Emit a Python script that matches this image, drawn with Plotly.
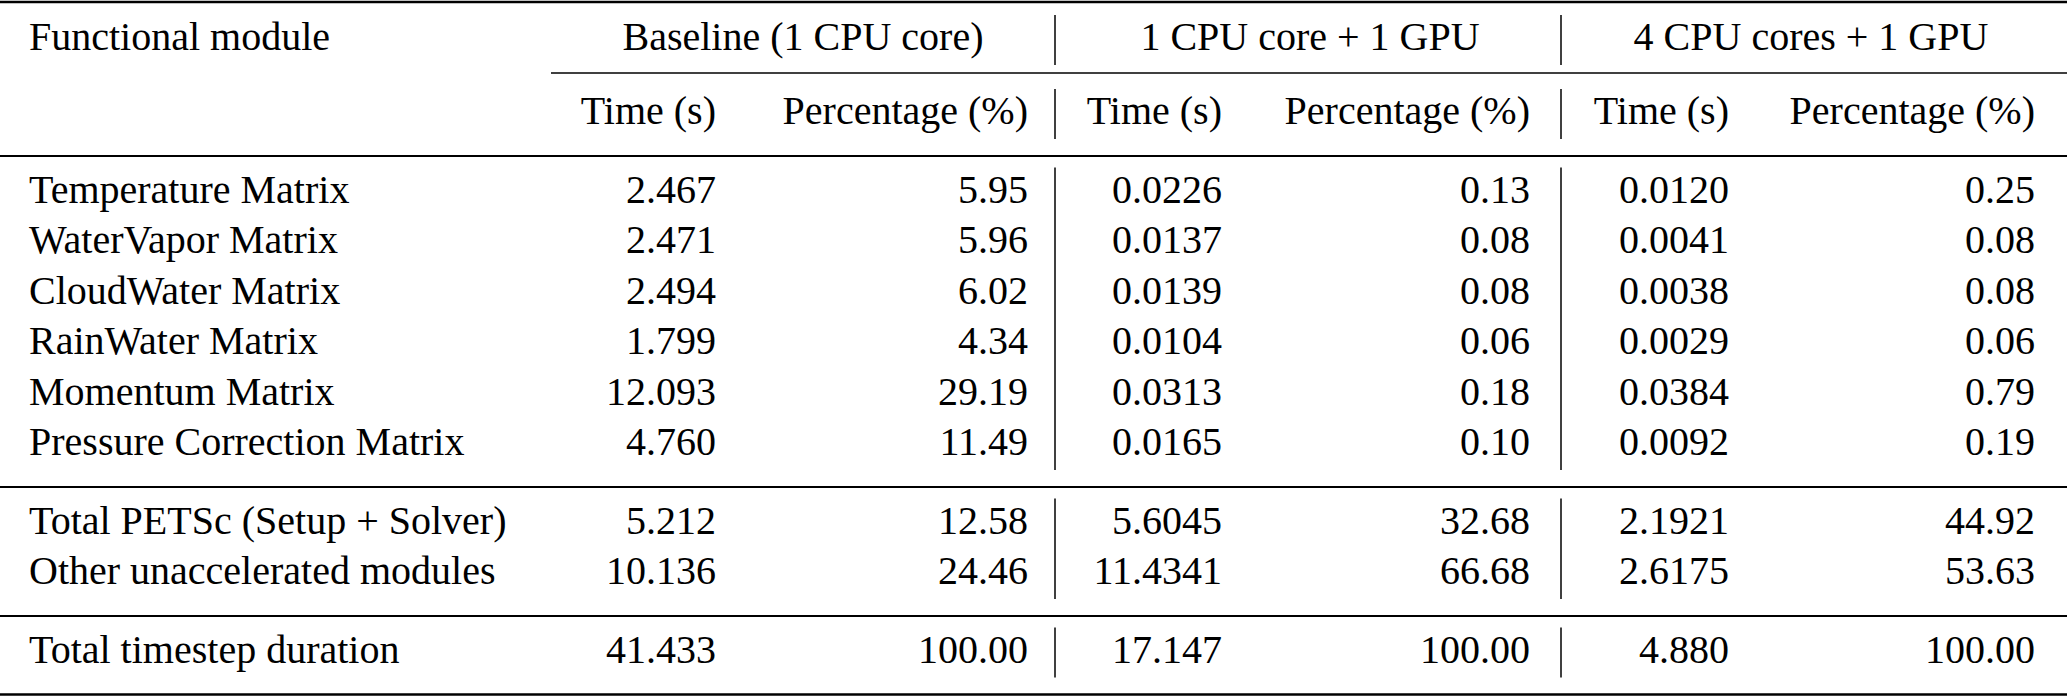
import plotly.graph_objects as go

# table content
modules = [
    "Temperature Matrix", "WaterVapor Matrix", "CloudWater Matrix",
    "RainWater Matrix", "Momentum Matrix", "Pressure Correction Matrix",
    "Total PETSc (Setup + Solver)", "Other unaccelerated modules",
    "Total timestep duration",
]
baseline_time = [2.467, 2.471, 2.494, 1.799, 12.093, 4.760, 5.212, 10.136, 41.433]
baseline_pct = [5.95, 5.96, 6.02, 4.34, 29.19, 11.49, 12.58, 24.46, 100.00]
gpu1_time = [0.0226, 0.0137, 0.0139, 0.0104, 0.0313, 0.0165, 5.6045, 11.4341, 17.147]
gpu1_pct = [0.13, 0.08, 0.08, 0.06, 0.18, 0.10, 32.68, 66.68, 100.00]
gpu4_time = [0.0120, 0.0041, 0.0038, 0.0029, 0.0384, 0.0092, 2.1921, 2.6175, 4.880]
gpu4_pct = [0.25, 0.08, 0.08, 0.06, 0.79, 0.19, 44.92, 53.63, 100.00]
gpu_time_digits = [4, 4, 4, 4, 4, 4, 4, 4, 3]

group_labels = ["Baseline (1 CPU core)", "1 CPU core + 1 GPU", "4 CPU cores + 1 GPU"]
sub_labels = ["Time (s)", "Percentage (%)"]
first_header = "Functional module"
section_sizes = [6, 2, 1]

# page geometry (pixels, axes are mapped 1:1 onto the page)
W, H = 2067, 698
FONT = dict(family="'Liberation Serif', 'Times New Roman', serif", size=40, color="black")
x_first = 29
x_right = [716, 1028, 1222, 1530, 1729, 2035]   # right edge of the number columns
x_group = [803, 1310, 1811]
x_bars = [1055, 1561]
y_top, y_head1, y_cmid, y_head2, y_mid = 2, 40, 73, 114, 156
pitch, gap_after_rule, gap_before_rule = 50.5, 36.5, 42

# work out the row positions section by section
row_y = []
rule_y = [y_mid]
section_spans = []
y = y_mid
for n in section_sizes:
    y0 = y + gap_after_rule
    ys = [y0 + i * pitch for i in range(n)]
    row_y += ys
    section_spans.append((ys[0], ys[-1]))
    y = ys[-1] + gap_before_rule
    rule_y.append(y)
y_bottom = rule_y.pop()

columns = [
    ["{:.3f}".format(v) for v in baseline_time],
    ["{:.2f}".format(v) for v in baseline_pct],
    ["{:.{}f}".format(v, d) for v, d in zip(gpu1_time, gpu_time_digits)],
    ["{:.2f}".format(v) for v in gpu1_pct],
    ["{:.{}f}".format(v, d) for v, d in zip(gpu4_time, gpu_time_digits)],
    ["{:.2f}".format(v) for v in gpu4_pct],
]

fig = go.Figure()

# header text
fig.add_trace(go.Scatter(x=[x_first], y=[y_head1], text=[first_header], mode="text",
                         textposition="middle right", textfont=FONT))
fig.add_trace(go.Scatter(x=x_group, y=[y_head1] * 3, text=group_labels, mode="text",
                         textposition="middle center", textfont=FONT))
fig.add_trace(go.Scatter(x=x_right, y=[y_head2] * 6, text=sub_labels * 3, mode="text",
                         textposition="middle left", textfont=FONT))

# body
fig.add_trace(go.Scatter(x=[x_first] * len(modules), y=row_y, text=modules, mode="text",
                         textposition="middle right", textfont=FONT))
for xr, col in zip(x_right, columns):
    fig.add_trace(go.Scatter(x=[xr] * len(col), y=row_y, text=col, mode="text",
                             textposition="middle left", textfont=FONT))

# booktabs style rules
shapes = []
shapes.append(dict(type="line", x0=0, x1=W, y0=y_top, y1=y_top, line=dict(color="black", width=2.5)))
shapes.append(dict(type="line", x0=0, x1=W, y0=y_bottom, y1=y_bottom, line=dict(color="black", width=2.5)))
shapes.append(dict(type="line", x0=551, x1=W, y0=y_cmid, y1=y_cmid, line=dict(color="black", width=1.6)))
for ry in rule_y:
    shapes.append(dict(type="line", x0=0, x1=W, y0=ry, y1=ry, line=dict(color="black", width=1.8)))

# vertical separators, broken at every rule
bar_spans = [(y_head1, y_head1), (y_head2, y_head2)] + section_spans
for xb in x_bars:
    for a, b in bar_spans:
        shapes.append(dict(type="line", x0=xb, x1=xb, y0=a - 25, y1=b + 25,
                           line=dict(color="black", width=1.5)))

fig.update_layout(
    width=W, height=H,
    margin=dict(l=0, r=0, t=0, b=0),
    font=FONT,
    paper_bgcolor="white", plot_bgcolor="white",
    showlegend=False,
    shapes=shapes,
    xaxis=dict(range=[0, W], visible=False, fixedrange=True),
    yaxis=dict(range=[H, 0], visible=False, fixedrange=True),
)

# the default page margin would push the table 8px off the window
fig.write_html("out.html", config={"displayModeBar": False},
               post_script="document.body.style.margin='0';")
